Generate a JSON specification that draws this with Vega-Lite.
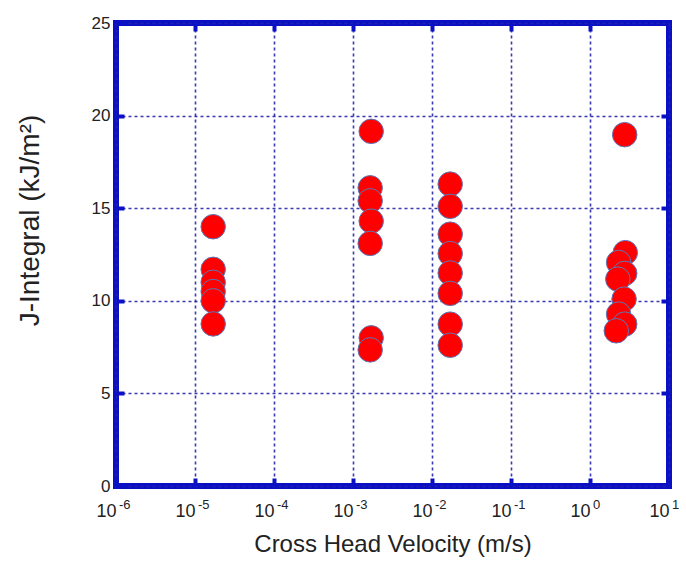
{
  "$schema": "https://vega.github.io/schema/vega-lite/v6.json",
  "width": 553,
  "height": 463,
  "autosize": {"type": "none"},
  "padding": {"left": 116, "top": 23, "right": 17, "bottom": 79},
  "background": "white",
  "config": {
    "view": {"stroke": "#0b10c4", "strokeWidth": 6},
    "font": "Liberation Sans"
  },
  "datasets": {
    "pts": [
      {"v": 1.7e-5, "j": 14.0},
      {"v": 1.7e-5, "j": 11.7},
      {"v": 1.7e-5, "j": 11.0},
      {"v": 1.7e-5, "j": 10.5},
      {"v": 1.7e-5, "j": 10.0},
      {"v": 1.7e-5, "j": 8.75},
      {"v": 1.7e-3, "j": 19.15},
      {"v": 1.65e-3, "j": 16.1},
      {"v": 1.65e-3, "j": 15.4},
      {"v": 1.7e-3, "j": 14.3},
      {"v": 1.65e-3, "j": 13.1},
      {"v": 1.7e-3, "j": 8.0},
      {"v": 1.65e-3, "j": 7.35},
      {"v": 1.7e-2, "j": 16.3},
      {"v": 1.7e-2, "j": 15.1},
      {"v": 1.7e-2, "j": 13.6},
      {"v": 1.7e-2, "j": 12.55},
      {"v": 1.7e-2, "j": 11.5},
      {"v": 1.7e-2, "j": 10.4},
      {"v": 1.7e-2, "j": 8.74},
      {"v": 1.7e-2, "j": 7.6},
      {"v": 2.75, "j": 18.97},
      {"v": 2.8, "j": 12.6},
      {"v": 2.3, "j": 12.07},
      {"v": 2.75, "j": 11.48},
      {"v": 2.25, "j": 11.17},
      {"v": 2.7, "j": 10.09},
      {"v": 2.3, "j": 9.28},
      {"v": 2.75, "j": 8.74},
      {"v": 2.15, "j": 8.38}
    ],
    "exps": [
      {"v": 1e-6, "e": "-6"},
      {"v": 1e-5, "e": "-5"},
      {"v": 1e-4, "e": "-4"},
      {"v": 1e-3, "e": "-3"},
      {"v": 1e-2, "e": "-2"},
      {"v": 1e-1, "e": "-1"},
      {"v": 1, "e": "0"},
      {"v": 10, "e": "1"}
    ]
  },
  "layer": [
    {
      "data": {"name": "pts"},
      "mark": {"type": "point", "filled": true, "fill": "#ff0000", "stroke": "#5a78b8", "strokeWidth": 1, "opacity": 1, "fillOpacity": 1, "strokeOpacity": 1, "size": 600},
      "encoding": {
        "x": {
          "field": "v",
          "type": "quantitative",
          "scale": {"type": "log", "domain": [1e-6, 10], "nice": false},
          "axis": {
            "title": "Cross Head Velocity (m/s)",
            "titleFontSize": 24,
            "titleFontWeight": "normal",
            "titleColor": "#222",
            "titlePadding": 12,
            "values": [1e-6, 1e-5, 1e-4, 1e-3, 1e-2, 1e-1, 1, 10],
            "labelExpr": "'10'",
            "labelFontSize": 18,
            "labelColor": "#222",
            "labelPadding": 24,
            "labelAlign": "right",
            "labelDx": 2,
            "labelFlush": false,
            "labelOverlap": false,
            "domain": false,
            "ticks": true,
            "tickSize": -8,
            "tickWidth": 4,
            "tickColor": "#0b10c4",
            "grid": true,
            "gridColor": "#2424a8",
            "gridDash": [3, 3],
            "gridWidth": 1.6,
            "gridOpacity": 0.9
          }
        },
        "y": {
          "field": "j",
          "type": "quantitative",
          "scale": {"domain": [0, 25], "nice": false, "zero": true},
          "axis": {
            "title": "J-Integral (kJ/m²)",
            "titleFontSize": 28,
            "titleFontWeight": "normal",
            "titleColor": "#222",
            "titlePadding": 47,
            "titleY": 197,
            "values": [0, 5, 10, 15, 20, 25],
            "labelFontSize": 17,
            "labelColor": "#222",
            "labelPadding": 14,
            "labelFlush": false,
            "domain": false,
            "ticks": true,
            "tickSize": -8,
            "tickWidth": 4,
            "tickColor": "#0b10c4",
            "grid": true,
            "gridColor": "#2424a8",
            "gridDash": [3, 3],
            "gridWidth": 1.6,
            "gridOpacity": 0.9
          }
        }
      }
    },
    {
      "data": {"name": "pts"},
      "mark": {"type": "point", "opacity": 0},
      "encoding": {
        "x": {
          "field": "v",
          "type": "quantitative",
          "axis": {
            "orient": "top",
            "title": null,
            "labels": false,
            "values": [1e-5, 1e-4, 1e-3, 1e-2, 1e-1, 1],
            "domain": false,
            "grid": false,
            "ticks": true,
            "tickSize": -8,
            "tickWidth": 4,
            "tickColor": "#0b10c4"
          }
        },
        "y": {
          "field": "j",
          "type": "quantitative",
          "axis": {
            "orient": "right",
            "title": null,
            "labels": false,
            "values": [5, 10, 15, 20],
            "domain": false,
            "grid": false,
            "ticks": true,
            "tickSize": -8,
            "tickWidth": 4,
            "tickColor": "#0b10c4"
          }
        }
      }
    },
    {
      "data": {"name": "exps"},
      "mark": {"type": "text", "align": "left", "baseline": "top", "dx": 3, "dy": 13, "fontSize": 13, "color": "#222", "font": "Liberation Sans"},
      "encoding": {
        "x": {"field": "v", "type": "quantitative", "axis": null},
        "y": {"datum": 0, "type": "quantitative", "axis": null},
        "text": {"field": "e"}
      }
    }
  ],
  "resolve": {"axis": {"x": "independent", "y": "independent"}}
}
